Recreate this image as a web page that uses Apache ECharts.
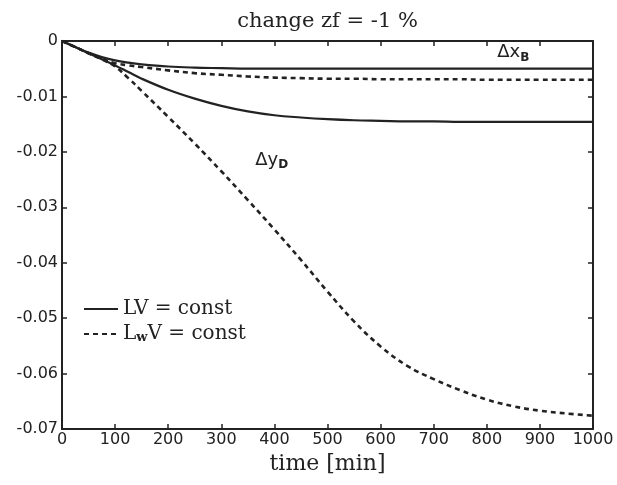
<!DOCTYPE html>
<html>
<head>
<meta charset="utf-8">
<script src="https://cdn.jsdelivr.net/npm/echarts@6/dist/echarts.min.js"></script>
<style>
html,body{margin:0;padding:0;background:#fff;}
#chart{width:617px;height:485px;}
</style>
</head>
<body>
<div id="chart"></div>
<script>
// ---- data ----
var titleText = 'change zf = -1 %';
var xAxisTitle = 'time [min]';
var legendNames = ['LV = const', 'LwV = const'];
var timeMin = [0, 25, 50, 75, 100, 125, 150, 200, 250, 300, 350, 400, 450, 500, 550, 600, 650, 700, 750, 800, 850, 900, 950, 1000];
// Delta x_B
var dxB_LV  = [0, -0.0011, -0.0021, -0.0029, -0.0035, -0.0039, -0.0042, -0.0046, -0.0048, -0.0049, -0.0050, -0.0050, -0.0050, -0.0050, -0.0050, -0.0050, -0.0050, -0.0050, -0.0050, -0.0050, -0.0050, -0.0050, -0.0050, -0.0050];
var dxB_LwV = [0, -0.0011, -0.0022, -0.0032, -0.0040, -0.0044, -0.0047, -0.0053, -0.0058, -0.0061, -0.0064, -0.0066, -0.0067, -0.0068, -0.0068, -0.0069, -0.0069, -0.0069, -0.0069, -0.0070, -0.0070, -0.0070, -0.0070, -0.0070];
// Delta y_D
var dyD_LV  = [0, -0.0011, -0.0022, -0.0033, -0.0044, -0.0056, -0.0068, -0.0088, -0.0104, -0.0117, -0.0127, -0.0134, -0.0138, -0.0141, -0.0143, -0.0144, -0.0145, -0.0145, -0.0146, -0.0146, -0.0146, -0.0146, -0.0146, -0.0146];
var dyD_LwV = [0, -0.0011, -0.0022, -0.0033, -0.0046, -0.0067, -0.0090, -0.0137, -0.0185, -0.0235, -0.0287, -0.0340, -0.0395, -0.0452, -0.0506, -0.0551, -0.0586, -0.0610, -0.0630, -0.0647, -0.0659, -0.0667, -0.0672, -0.0676];
var xTicks = {min: 0, max: 1000, interval: 100};
var yTicks = {min: -0.07, max: 0, interval: 0.01};
// annotation anchor points (data coordinates)
var labelXB = {t: 850, v: -0.0023};
var labelYD = {t: 395, v: -0.0217};

function pairs(xs, ys){ return xs.map(function(x,i){ return [x, ys[i]]; }); }

var ink = '#222';
var serif = 'DejaVu Serif';
var sans = 'DejaVu Sans';
var solidStyle = {color: ink, width: 2.2, type: 'solid'};
var dashStyle = {color: ink, width: 2.6, type: [5, 4], cap: 'butt'};

var subRich = {
  a: {fontFamily: sans, fontSize: 18, color: ink, lineHeight: 20, verticalAlign: 'top'},
  s: {fontFamily: sans, fontSize: 12, fontWeight: 'bold', color: ink, lineHeight: 12, padding: [8,0,0,0], verticalAlign: 'bottom'}
};

function lineSeries(name, data, style, mark){
  var s = {
    name: name, type: 'line', data: data, showSymbol: false, symbol: 'none',
    smooth: 0.4, lineStyle: style, itemStyle: {color: ink},
    emphasis: {disabled: true}, animation: false, z: 3
  };
  if (mark) {
    s.markPoint = {
      symbol: 'circle', symbolSize: 0, animation: false, silent: true,
      data: [{coord: [mark.t, mark.v], value: 0}],
      label: {show: true, position: 'inside', formatter: mark.text, rich: subRich}
    };
  }
  return s;
}

var chart = echarts.init(document.getElementById('chart'), null, {renderer: 'canvas'});
var axisLineStyle = {show: true, onZero: false, lineStyle: {color: ink, width: 2}};
var tickStyle = {show: true, inside: true, length: 5, lineStyle: {color: ink, width: 1.5}};
chart.setOption({
  animation: false,
  backgroundColor: '#fff',
  grid: {left: 62, right: 24, top: 41, bottom: 56, containLabel: false},
  legend: {
    show: true,
    orient: 'vertical', left: 78, top: 294, itemWidth: 34, itemHeight: 12, itemGap: 4,
    data: legendNames,
    selectedMode: false,
    itemStyle: {opacity: 0},
    textStyle: {
      fontFamily: serif, fontSize: 20, color: ink,
      rich: {
        a: {fontFamily: serif, fontSize: 20, color: ink, lineHeight: 20, verticalAlign: 'top'},
        s: {fontFamily: serif, fontSize: 13, fontWeight: 'bold', color: ink, lineHeight: 12, padding: [8,0,0,0], verticalAlign: 'bottom'}
      }
    },
    formatter: function(n){
      if (n === legendNames[1]) return '{a|L}{s|w}{a|V = const}';
      return '{a|' + n + '}';
    }
  },
  xAxis: [
    {type: 'value', position: 'bottom', min: xTicks.min, max: xTicks.max, interval: xTicks.interval,
     axisLine: axisLineStyle, axisTick: tickStyle, splitLine: {show: false},
     axisLabel: {fontFamily: sans, fontSize: 16, color: ink, margin: 3,
       formatter: function(v){ return String(Math.round(v)); }},
     name: xAxisTitle, nameLocation: 'middle', nameGap: 23,
     nameTextStyle: {fontFamily: serif, fontSize: 22, color: ink}},
    {type: 'value', position: 'top', min: xTicks.min, max: xTicks.max, interval: xTicks.interval,
     axisLine: axisLineStyle, axisTick: tickStyle, splitLine: {show: false},
     axisLabel: {show: false},
     name: titleText, nameLocation: 'middle', nameGap: 9,
     nameTextStyle: {fontFamily: serif, fontSize: 21, color: ink}}
  ],
  yAxis: [
    {type: 'value', position: 'left', min: yTicks.min, max: yTicks.max, interval: yTicks.interval,
     axisLine: axisLineStyle, axisTick: tickStyle, splitLine: {show: false},
     axisLabel: {fontFamily: sans, fontSize: 16, color: ink, margin: 4,
       formatter: function(v){ return Math.abs(v) < 1e-9 ? '0' : v.toFixed(2); }}},
    {type: 'value', position: 'right', min: yTicks.min, max: yTicks.max, interval: yTicks.interval,
     axisLine: axisLineStyle, axisTick: tickStyle, splitLine: {show: false},
     axisLabel: {show: false}}
  ],
  series: [
    lineSeries(legendNames[0], pairs(timeMin, dxB_LV), solidStyle, {t: labelXB.t, v: labelXB.v, text: '{a|Δx}{s|B}'}),
    lineSeries(legendNames[1], pairs(timeMin, dxB_LwV), dashStyle),
    lineSeries(legendNames[0], pairs(timeMin, dyD_LV), solidStyle),
    lineSeries(legendNames[1], pairs(timeMin, dyD_LwV), dashStyle, {t: labelYD.t, v: labelYD.v, text: '{a|Δy}{s|D}'})
  ]
});
</script>
</body>
</html>
